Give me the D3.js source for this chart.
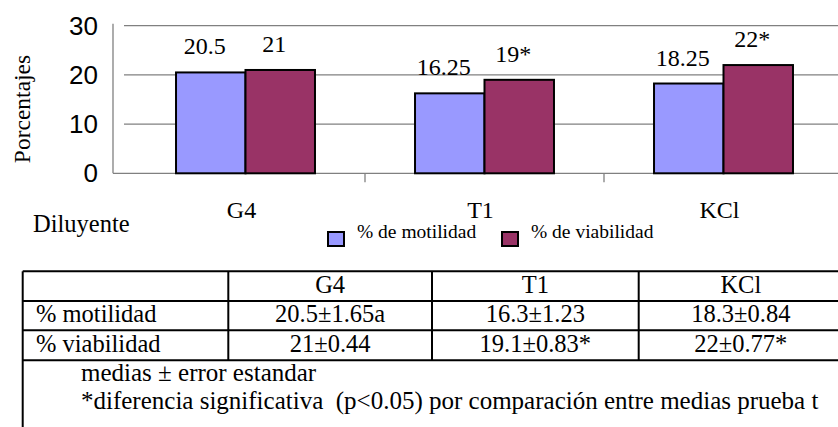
<!DOCTYPE html>
<html>
<head>
<meta charset="utf-8">
<script src="https://cdn.jsdelivr.net/npm/d3@7/dist/d3.min.js"></script>
<style>
	body { margin: 0; background: #fff; }
	svg { display: block; }
	.serif { font-family: "Liberation Serif", "Times New Roman", serif; fill: #000; }
	.sans { font-family: "Liberation Sans", Arial, sans-serif; fill: #000; }
</style>
</head>
<body>
<svg id="chart" width="838" height="427"></svg>
<script>
var categories = ['G4', 'T1', 'KCl'];
var seriesNames = ['% de motilidad', '% de viabilidad'];
var motilidad = [20.5, 16.25, 18.25];
var viabilidad = [21, 19, 22];
var motilidadMarks = ['', '', ''];
var viabilidadMarks = ['', '*', '*'];
var yTicks = [0, 10, 20, 30];

var tableHeader = ['', 'G4', 'T1', 'KCl'];
var tableMotilidad = ['% motilidad', '20.5±1.65a', '16.3±1.23', '18.3±0.84'];
var tableViabilidad = ['% viabilidad', '21±0.44', '19.1±0.83*', '22±0.77*'];
var footNotes = ['medias ± error estandar', '*diferencia significativa  (p<0.05) por comparación entre medias prueba t'];

var colors = ['#9999ff', '#993366'];
var gridColor = '#808080';

var svg = d3.select('#chart');

var x0 = d3.scaleBand()
	.domain(categories)
	.range([126, 843]);
var x1 = d3.scaleBand()
	.domain(seriesNames)
	.range([0, x0.bandwidth()])
	.paddingOuter(0.72);
var y = d3.scaleLinear()
	.domain([0, 30])
	.range([173.3, 25.7]);

// grid lines + axis
svg.append('g').selectAll('line')
	.data(yTicks)
	.enter()
	.append('line')
	.attr('x1', function(d) { return d == 0 ? 113 : 124; })
	.attr('x2', 838)
	.attr('y1', function(d) { return y(d); })
	.attr('y2', function(d) { return y(d); })
	.attr('stroke', gridColor)
	.attr('stroke-width', 1.3);

svg.append('line')
	.attr('x1', 113).attr('x2', 113)
	.attr('y1', y(30) - 2).attr('y2', y(0))
	.attr('stroke', gridColor)
	.attr('stroke-width', 1.3);

svg.append('g').selectAll('line')
	.data(categories.slice(1))
	.enter()
	.append('line')
	.attr('x1', function(d) { return x0(d); })
	.attr('x2', function(d) { return x0(d); })
	.attr('y1', y(0))
	.attr('y2', y(0) + 9)
	.attr('stroke', gridColor)
	.attr('stroke-width', 1.3);

svg.append('g').selectAll('text')
	.data(yTicks)
	.enter()
	.append('text')
	.attr('class', 'sans')
	.attr('x', 98)
	.attr('y', function(d) { return y(d) + 9; })
	.attr('text-anchor', 'end')
	.attr('font-size', 26)
	.text(function(d) { return d; });

svg.append('text')
	.attr('class', 'serif')
	.attr('transform', 'translate(30,109) rotate(-90)')
	.attr('text-anchor', 'middle')
	.attr('font-size', 23.5)
	.text('Porcentajes');

// bars
var barData = [];
categories.forEach(function(c, i) {
	barData.push({ cat: c, series: seriesNames[0], value: motilidad[i], mark: motilidadMarks[i], color: colors[0] });
	barData.push({ cat: c, series: seriesNames[1], value: viabilidad[i], mark: viabilidadMarks[i], color: colors[1] });
});

svg.append('g').selectAll('rect')
	.data(barData)
	.enter()
	.append('rect')
	.attr('x', function(d) { return x0(d.cat) + x1(d.series); })
	.attr('y', function(d) { return y(d.value); })
	.attr('width', x1.bandwidth())
	.attr('height', function(d) { return y(0) - y(d.value); })
	.attr('fill', function(d) { return d.color; })
	.attr('stroke', '#000')
	.attr('stroke-width', 2);

svg.append('g').selectAll('text')
	.data(barData)
	.enter()
	.append('text')
	.attr('class', 'serif')
	.attr('x', function(d) { return x0(d.cat) + x1(d.series) + x1.bandwidth() / 2 - 6; })
	.attr('y', function(d) { return y(d.value) - 18; })
	.attr('text-anchor', 'middle')
	.attr('font-size', 24)
	.text(function(d) { return d.value + d.mark; });

// category labels
svg.append('g').selectAll('text')
	.data(categories)
	.enter()
	.append('text')
	.attr('class', 'serif')
	.attr('x', function(d) { return x0(d) + x0.bandwidth() / 2 - 4; })
	.attr('y', 218)
	.attr('text-anchor', 'middle')
	.attr('font-size', 24)
	.text(function(d) { return d; });

svg.append('text')
	.attr('class', 'serif')
	.attr('x', 33)
	.attr('y', 232)
	.attr('font-size', 24.5)
	.text('Diluyente');

// legend
var legendX = [328, 502];
var legend = svg.append('g').selectAll('g')
	.data(seriesNames)
	.enter()
	.append('g')
	.attr('transform', function(d, i) { return 'translate(' + legendX[i] + ',232)'; });
legend.append('rect')
	.attr('width', 16)
	.attr('height', 14)
	.attr('fill', function(d, i) { return colors[i]; })
	.attr('stroke', '#000')
	.attr('stroke-width', 2);
legend.append('text')
	.attr('class', 'serif')
	.attr('x', 29)
	.attr('y', 6)
	.attr('font-size', 19.5)
	.text(function(d) { return d; });

// table
var colX = [22.7, 228.3, 432, 638.7, 843];
var rowY = [271.3, 301, 330.3, 360.3, 440];
var tableRows = [tableHeader, tableMotilidad, tableViabilidad];
var table = svg.append('g');

table.selectAll('line.h')
	.data(rowY.slice(0, 4))
	.enter()
	.append('line')
	.attr('class', 'h')
	.attr('x1', colX[0]).attr('x2', 838)
	.attr('y1', function(d) { return d; })
	.attr('y2', function(d) { return d; })
	.attr('stroke', '#000')
	.attr('stroke-width', 2);

table.selectAll('line.v')
	.data(colX.slice(0, 4))
	.enter()
	.append('line')
	.attr('class', 'v')
	.attr('x1', function(d) { return d; })
	.attr('x2', function(d) { return d; })
	.attr('y1', rowY[0])
	.attr('y2', function(d, i) { return i == 0 ? 427 : rowY[3]; })
	.attr('stroke', '#000')
	.attr('stroke-width', 2);

tableRows.forEach(function(row, r) {
	table.append('g').selectAll('text')
		.data(row)
		.enter()
		.append('text')
		.attr('class', 'serif')
		.attr('x', function(d, c) { return c == 0 ? 36 : (colX[c] + colX[c + 1]) / 2; })
		.attr('y', rowY[r + 1] - 8)
		.attr('text-anchor', function(d, c) { return c == 0 ? 'start' : 'middle'; })
		.attr('font-size', 24.5)
		.text(function(d) { return d; });
});

table.append('g').selectAll('text')
	.data(footNotes)
	.enter()
	.append('text')
	.attr('class', 'serif')
	.attr('x', 81)
	.attr('y', function(d, i) { return 381 + i * 28; })
	.attr('font-size', 25)
	.attr('xml:space', 'preserve')
	.style('white-space', 'pre')
	.text(function(d) { return d; });
</script>
</body>
</html>
